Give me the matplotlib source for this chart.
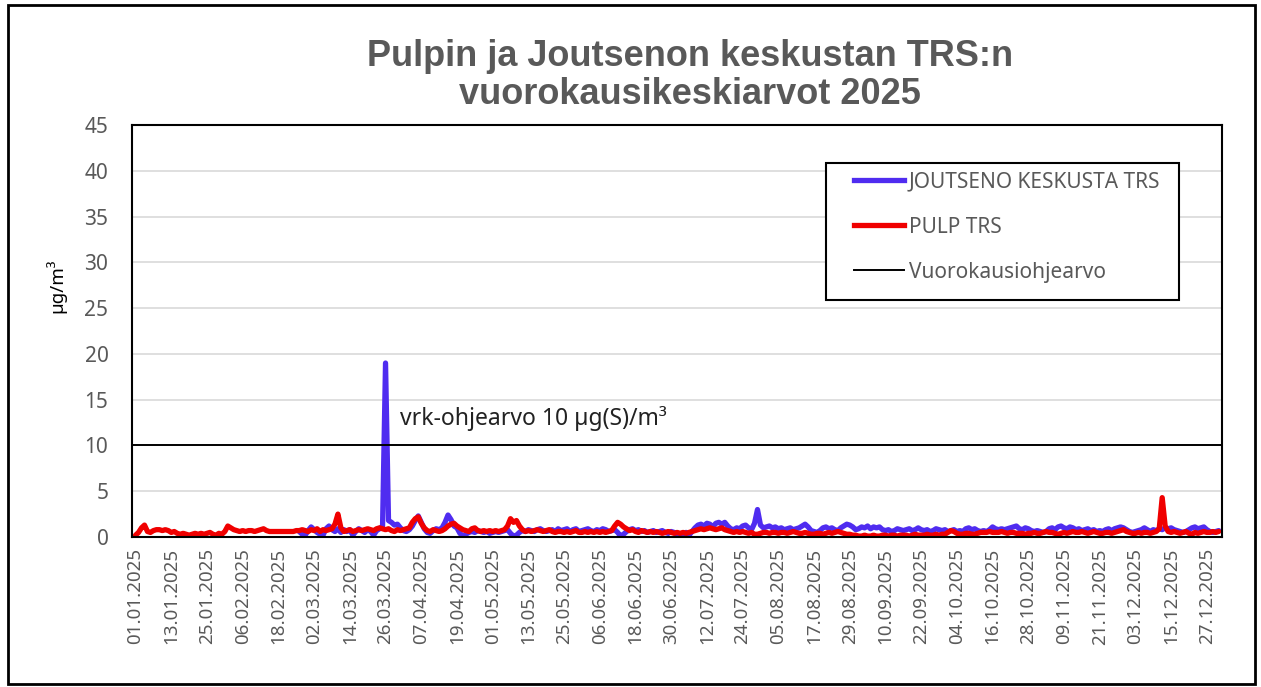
import numpy as np
import pandas as pd
import matplotlib
matplotlib.use("Agg")
import matplotlib.pyplot as plt
from matplotlib.lines import Line2D
from matplotlib.patches import Rectangle

# Daily TRS means 2025 (µg/m3), one value per day, Jan..Dec
pulp_trs = [
    0.2, 0.5, 1.0, 1.3, 0.6, 0.5, 0.7, 0.8, 0.8, 0.7, 0.8, 0.7, 0.5, 0.6, 0.4, 0.3, 0.4, 0.3, 0.2, 0.3, 0.4, 0.3, 0.4, 0.3, 0.4, 0.5, 0.3, 0.2, 0.4, 0.3, 0.6,
    1.2, 1.0, 0.8, 0.7, 0.6, 0.7, 0.6, 0.7, 0.7, 0.6, 0.7, 0.8, 0.9, 0.7, 0.6, 0.6, 0.6, 0.6, 0.6, 0.6, 0.6, 0.6, 0.6, 0.7, 0.7, 0.8, 0.7, 0.6,
    0.8, 0.7, 0.9, 0.6, 0.8, 0.7, 0.8, 0.9, 1.4, 2.5, 1.0, 0.6, 0.7, 0.8, 0.6, 0.7, 0.8, 0.7, 0.8, 0.9, 0.8, 0.7, 0.9, 1.0, 0.9, 0.8, 0.9, 0.7, 0.6, 0.8, 0.7,
    0.8, 0.9, 1.0, 1.6, 2.0, 2.2, 1.5, 1.0, 0.7, 0.6, 0.8, 0.7, 0.6, 0.7, 0.9, 1.2, 1.4, 1.5, 1.2, 1.0, 0.8, 0.7, 0.6, 0.9, 1.0, 0.7, 0.6, 0.7, 0.6, 0.7,
    0.6, 0.7, 0.6, 0.7, 0.8, 1.2, 2.0, 1.6, 1.8, 1.2, 0.8, 0.6, 0.7, 0.6, 0.7, 0.8, 0.7, 0.6, 0.7, 0.8, 0.6, 0.5, 0.6, 0.6, 0.5, 0.6, 0.5, 0.6, 0.7, 0.5, 0.5,
    0.6, 0.5, 0.6, 0.5, 0.6, 0.5, 0.6, 0.5, 0.6, 0.7, 1.2, 1.6, 1.4, 1.1, 0.9, 0.7, 0.8, 0.6, 0.5, 0.7, 0.6, 0.5, 0.6, 0.5, 0.6, 0.5, 0.4, 0.5, 0.6, 0.5,
    0.4, 0.5, 0.4, 0.5, 0.4, 0.5, 0.6, 0.7, 0.8, 0.9, 0.8, 0.9, 1.0, 0.9, 0.8, 0.9, 1.0, 0.8, 0.7, 0.6, 0.5, 0.6, 0.5, 0.6, 0.5, 0.4, 0.5, 0.3, 0.3, 0.4, 0.5,
    0.5, 0.4, 0.5, 0.5, 0.4, 0.5, 0.5, 0.4, 0.5, 0.6, 0.5, 0.4, 0.4, 0.5, 0.4, 0.3, 0.3, 0.4, 0.4, 0.3, 0.4, 0.5, 0.4, 0.5, 0.6, 0.5, 0.4, 0.3, 0.3, 0.2, 0.2,
    0.1, 0.1, 0.2, 0.1, 0.1, 0.2, 0.1, 0.1, 0.2, 0.2, 0.1, 0.2, 0.2, 0.1, 0.2, 0.2, 0.2, 0.1, 0.2, 0.3, 0.2, 0.2, 0.2, 0.3, 0.2, 0.2, 0.3, 0.2, 0.3, 0.3,
    0.5, 0.7, 0.6, 0.4, 0.3, 0.3, 0.4, 0.4, 0.3, 0.3, 0.4, 0.5, 0.5, 0.5, 0.6, 0.5, 0.5, 0.5, 0.6, 0.5, 0.4, 0.5, 0.5, 0.4, 0.4, 0.4, 0.3, 0.4, 0.4, 0.5, 0.4,
    0.4, 0.5, 0.6, 0.5, 0.5, 0.4, 0.3, 0.4, 0.5, 0.4, 0.5, 0.6, 0.5, 0.5, 0.6, 0.5, 0.4, 0.5, 0.6, 0.5, 0.4, 0.4, 0.5, 0.5, 0.4, 0.5, 0.6, 0.7, 0.8, 0.6,
    0.5, 0.4, 0.4, 0.5, 0.4, 0.5, 0.5, 0.4, 0.5, 0.6, 0.9, 4.3, 1.2, 0.6, 0.5, 0.6, 0.5, 0.4, 0.5, 0.6, 0.4, 0.3, 0.5, 0.4, 0.5, 0.6, 0.5, 0.5, 0.6, 0.5, 0.6,
]

# Joutseno station has no data before 25.02.
joutseno_trs = [None] * 55 + [
    0.6, 0.3, 0.2, 0.7,
    1.1, 0.8, 0.5, 0.3, 0.2, 0.9, 1.2, 0.8, 0.6, 0.9, 0.5, 0.8, 0.6, 0.8, 0.2, 0.6, 0.9, 0.7, 0.5, 0.8, 0.6, 0.2, 0.7, 0.9, 1.2, 19.0, 1.8, 1.6, 1.3, 1.4, 1.0,
    0.7, 0.6, 0.8, 1.2, 1.8, 2.3, 1.6, 0.9, 0.5, 0.4, 0.7, 0.9, 0.8, 1.0, 1.6, 2.4, 1.9, 1.2, 1.0, 0.4, 0.1, 0.3, 0.5, 0.6, 0.5, 0.7, 0.6, 0.5, 0.6, 0.4,
    0.5, 0.6, 0.5, 0.6, 0.7, 0.8, 0.4, 0.1, 0.2, 0.5, 0.7, 0.6, 0.8, 0.7, 0.6, 0.8, 0.9, 0.7, 0.6, 0.7, 0.8, 0.6, 0.9, 0.7, 0.8, 0.9, 0.6, 0.8, 0.9, 0.6, 0.7,
    0.8, 0.9, 0.7, 0.6, 0.8, 0.7, 0.9, 0.8, 0.6, 0.7, 0.8, 0.5, 0.1, 0.3, 0.6, 0.8, 0.9, 0.7, 0.8, 0.6, 0.7, 0.5, 0.6, 0.7, 0.5, 0.6, 0.7, 0.5, 0.4, 0.6,
    0.5, 0.3, 0.2, 0.3, 0.5, 0.2, 0.6, 1.0, 1.3, 1.4, 1.2, 1.5, 1.4, 1.1, 1.5, 1.6, 1.4, 1.6, 1.2, 0.9, 0.8, 1.0, 0.9, 1.2, 1.3, 1.0, 0.8, 1.5, 3.0, 1.3, 1.0,
    1.1, 1.2, 1.0, 1.1, 0.9, 1.0, 0.8, 0.9, 1.0, 0.8, 0.9, 1.0, 1.2, 1.4, 1.1, 0.7, 0.6, 0.5, 0.7, 1.0, 1.1, 0.9, 1.0, 0.8, 0.7, 1.0, 1.2, 1.4, 1.3, 1.1, 0.8,
    0.9, 1.1, 1.0, 1.2, 0.9, 1.1, 1.0, 1.1, 0.8, 0.7, 0.8, 0.6, 0.7, 0.9, 0.8, 0.7, 0.8, 0.9, 0.7, 0.8, 1.0, 0.8, 0.7, 0.8, 0.6, 0.7, 0.9, 0.8, 0.7, 0.8,
    0.6, 0.7, 0.8, 0.6, 0.7, 0.6, 0.9, 1.0, 0.8, 0.9, 0.7, 0.6, 0.7, 0.6, 0.8, 1.1, 0.9, 0.8, 0.9, 0.8, 0.9, 1.0, 1.1, 1.2, 0.9, 0.8, 1.0, 0.9, 0.7, 0.6, 0.7,
    0.6, 0.5, 0.6, 0.9, 1.0, 0.8, 1.1, 1.2, 1.0, 0.9, 1.1, 1.0, 0.8, 0.9, 0.7, 0.8, 0.9, 0.7, 0.8, 0.6, 0.7, 0.6, 0.8, 0.9, 0.7, 0.9, 1.0, 1.1, 1.0, 0.8,
    0.6, 0.5, 0.6, 0.7, 0.8, 1.0, 0.8, 0.6, 0.8, 0.7, 0.9, 0.8, 1.0, 0.9, 1.0, 0.8, 0.7, 0.6, 0.5, 0.6, 0.8, 1.0, 1.1, 0.9, 1.0, 1.1, 0.8, 0.6, 0.5, 0.6, 0.7,
]

guideline = 10  # vuorokausiohjearvo, µg(S)/m3
labels = ["JOUTSENO KESKUSTA TRS", "PULP TRS", "Vuorokausiohjearvo"]

dates = pd.date_range("2025-01-01", "2025-12-31", freq="D")
assert len(pulp_trs) == len(dates) and len(joutseno_trs) == len(dates)
x = np.arange(len(dates))
jout = np.array([np.nan if v is None else v for v in joutseno_trs], dtype=float)
pulp = np.array(pulp_trs, dtype=float)

BLUE = "#4F2CF0"
RED = "#F00000"
GREY = "#595959"
LW = 3.8

plt.rcParams["font.family"] = ["Noto Sans", "DejaVu Sans"]

fig = plt.figure(figsize=(12.61, 6.87), dpi=100)
ax = fig.add_axes([132 / 1261, 1 - 537 / 687, 1090 / 1261, 412 / 687])

ax.set_axisbelow(True)
ax.yaxis.grid(True, color="#d9d9d9", lw=1.2)
ax.plot(x, jout, color=BLUE, lw=LW, solid_joinstyle="round", solid_capstyle="round")
ax.plot(x, pulp, color=RED, lw=LW, solid_joinstyle="round", solid_capstyle="round")
ax.axhline(guideline, color="black", lw=1.4)

ax.set_ylim(0, 45)
ax.set_yticks(range(0, 46, 5))
ax.set_xlim(-1.2, 365.1)
ax.set_xticks(x[::12])
ax.set_xticklabels([d.strftime("%d.%m.%Y") for d in dates[::12]], rotation=90)
ax.tick_params(axis="x", length=0, pad=8, labelsize=13.5, labelcolor=GREY)
ax.tick_params(axis="y", length=0, pad=17, labelsize=15, labelcolor=GREY)
for s in ax.spines.values():
    s.set_linewidth(1.5)
    s.set_color("black")

ax.set_ylabel("µg/m³", fontsize=13.5, fontweight="bold")
ax.yaxis.set_label_coords(-0.06, 0.61)

ax.text(88.9, 12.9, f"vrk-ohjearvo {guideline} µg(S)/m³", fontsize=16.5,
        color="#222222", va="center", ha="left")

# legend with its own frame
ax.add_patch(Rectangle((0.637, 0.575), 0.324, 0.333, transform=ax.transAxes,
                       fill=True, facecolor="white", edgecolor="black", lw=1.5, zorder=5))
handles = [Line2D([], [], color=BLUE, lw=LW),
           Line2D([], [], color=RED, lw=LW),
           Line2D([], [], color="black", lw=1.4)]
leg = ax.legend(handles, labels, loc="upper left", bbox_to_anchor=(0.657, 0.902),
                frameon=False, fontsize=15, handlelength=2.4, handletextpad=0.2,
                labelspacing=1.15, borderpad=0.3, borderaxespad=0)
leg.set_zorder(6)
for t in leg.get_texts():
    t.set_color(GREY)

fig.text(0.547, 1 - 57 / 687, "Pulpin ja Joutsenon keskustan TRS:n", ha="center", va="center",
         fontsize=26, fontweight="bold", color=GREY, family="Liberation Sans")
fig.text(0.547, 1 - 95 / 687, "vuorokausikeskiarvot 2025", ha="center", va="center",
         fontsize=26, fontweight="bold", color=GREY, family="Liberation Sans")

# outer frame
fig.patches.append(Rectangle((8 / 1261, 3 / 687), 1247 / 1261, 679 / 687, transform=fig.transFigure,
                             fill=False, edgecolor="black", lw=2))

fig.savefig("out.png", dpi=100)
